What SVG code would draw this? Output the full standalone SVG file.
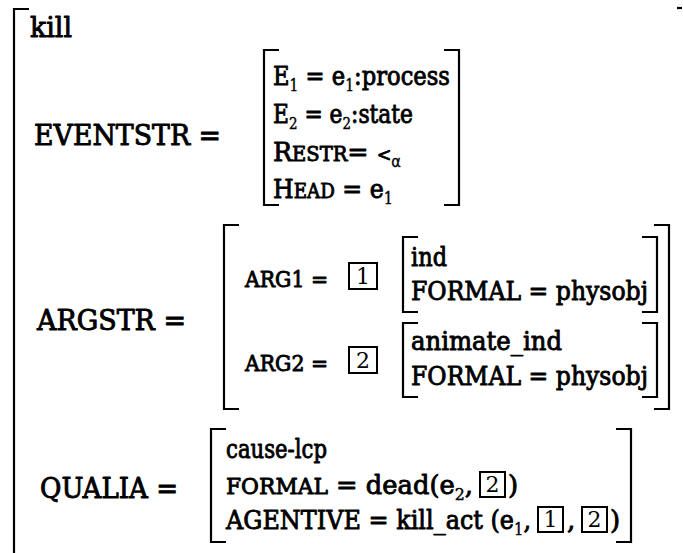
<svg xmlns="http://www.w3.org/2000/svg" width="683" height="553" viewBox="0 0 683 553" font-family="DejaVu Serif, Noto Serif, FreeSerif, Liberation Serif, serif">
<style>
.t{font-weight:normal;fill:#000;stroke:#000;stroke-width:0.9;stroke-linejoin:round}
.sub{font-weight:normal;font-size:16px;stroke-width:0.4}
.br{fill:none;stroke:#000;stroke-width:2.2}
.box{fill:none;stroke:#000;stroke-width:2}
.d{font-weight:normal;font-size:22px;fill:#000;text-anchor:middle}
</style>
<rect width="683" height="553" fill="#fff"/>
<g id="outer">
<path class="br" d="M29,9 H14 V553"/>
<path class="br" d="M677,8 H682"/>
<text class="t" x="30" y="37" font-size="27" textLength="42" lengthAdjust="spacingAndGlyphs">kill</text>
</g>
<g id="eventstr">
<text class="t" x="34" y="145" font-size="27" textLength="187" lengthAdjust="spacingAndGlyphs">EVENTSTR =</text>
<path class="br" d="M279,50 H264 V205 H279"/>
<path class="br" d="M444,50 H459 V205 H444"/>
<text class="t" x="273" y="85" font-size="26" textLength="177" lengthAdjust="spacingAndGlyphs">E<tspan class="sub" dy="6">1</tspan><tspan dy="-6"> = e</tspan><tspan class="sub" dy="6">1</tspan><tspan dy="-6">:process</tspan></text>
<text class="t" x="273" y="123" font-size="26" textLength="140" lengthAdjust="spacingAndGlyphs">E<tspan class="sub" dy="6">2</tspan><tspan dy="-6"> = e</tspan><tspan class="sub" dy="6">2</tspan><tspan dy="-6">:state</tspan></text>
<text class="t" x="273" y="161" font-size="26" textLength="128" lengthAdjust="spacingAndGlyphs">R<tspan font-size="20">ESTR</tspan>= <tspan font-size="18">&lt;</tspan><tspan font-family="DejaVu Sans, sans-serif" font-size="15" stroke-width="0.3" dy="6">α</tspan></text>
<text class="t" x="273" y="198" font-size="26" textLength="120" lengthAdjust="spacingAndGlyphs">H<tspan font-size="20">EAD</tspan> = e<tspan class="sub" dy="6">1</tspan></text>
</g>
<g id="argstr">
<text class="t" x="37" y="330" font-size="27" textLength="149" lengthAdjust="spacingAndGlyphs">ARGSTR =</text>
<path class="br" d="M239,225 H224 V409 H239"/>
<path class="br" d="M654,225 H669 V409 H654"/>
</g>
<g id="arg1">
<text class="t" x="245" y="287" font-size="22" textLength="83" lengthAdjust="spacingAndGlyphs">ARG1 =</text>
<rect class="box" x="349" y="263" width="28" height="26"/>
<text class="d" x="363" y="284">1</text>
<path class="br" d="M418,237 H403 V312 H418"/>
<path class="br" d="M642,237 H657 V312 H642"/>
<text class="t" x="411" y="266" font-size="26" textLength="36" lengthAdjust="spacingAndGlyphs">ind</text>
<text class="t" x="411" y="300" font-size="26" textLength="237" lengthAdjust="spacingAndGlyphs">FORMAL = physobj</text>
</g>
<g id="arg2">
<text class="t" x="245" y="371" font-size="22" textLength="83" lengthAdjust="spacingAndGlyphs">ARG2 =</text>
<rect class="box" x="349" y="347" width="28" height="26"/>
<text class="d" x="363" y="368">2</text>
<path class="br" d="M418,323 H403 V397 H418"/>
<path class="br" d="M642,323 H657 V397 H642"/>
<text class="t" x="411" y="350" font-size="26" textLength="151" lengthAdjust="spacingAndGlyphs">animate_ind</text>
<text class="t" x="411" y="385" font-size="26" textLength="237" lengthAdjust="spacingAndGlyphs">FORMAL = physobj</text>
</g>
<g id="qualia">
<text class="t" x="40" y="498" font-size="27" textLength="138" lengthAdjust="spacingAndGlyphs">QUALIA =</text>
<path class="br" d="M226,429 H211 V542 H226"/>
<path class="br" d="M616,429 H631 V542 H616"/>
<text class="t" x="226" y="458" font-size="26" textLength="101" lengthAdjust="spacingAndGlyphs">cause-lcp</text>
<text class="t" x="226" y="494" font-size="26" textLength="247" lengthAdjust="spacingAndGlyphs"><tspan font-size="22">FORMAL</tspan> = dead(e<tspan class="sub" dy="6">2</tspan><tspan dy="-6">,</tspan></text>
<rect class="box" x="480" y="472" width="25" height="25"/>
<text class="d" x="492.5" y="492">2</text>
<text class="t" x="508" y="494" font-size="26">)</text>
<text class="t" x="226" y="529" font-size="26" textLength="305" lengthAdjust="spacingAndGlyphs">AGENTIVE = kill_act (e<tspan class="sub" dy="6">1</tspan><tspan dy="-6">,</tspan></text>
<rect class="box" x="538" y="507" width="25" height="25"/>
<text class="d" x="550.5" y="527">1</text>
<text class="t" x="567" y="529" font-size="26">,</text>
<rect class="box" x="582" y="507" width="25" height="25"/>
<text class="d" x="594.5" y="527">2</text>
<text class="t" x="610" y="529" font-size="26">)</text>
</g>
</svg>
